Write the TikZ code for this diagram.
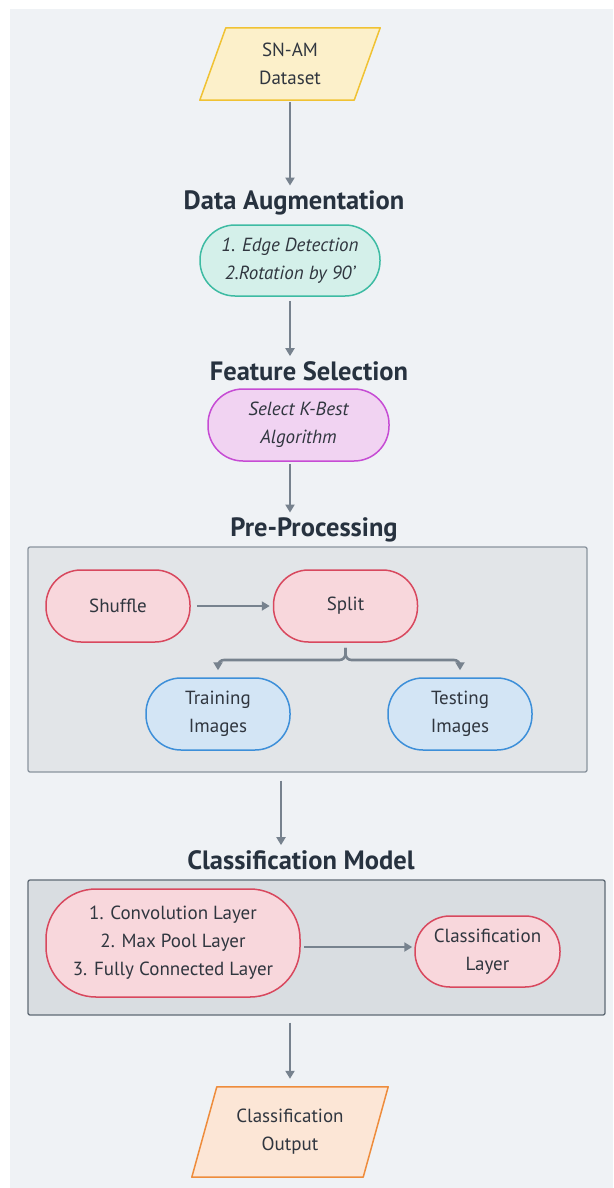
\documentclass[tikz,border=0pt]{standalone}
\usepackage{fontspec}
\setmainfont{PT Sans}
\usetikzlibrary{arrows.meta,calc,positioning}
\definecolor{bgc}{HTML}{EFF2F5}
\definecolor{arrc}{HTML}{77828E}
\definecolor{titc}{HTML}{27323F}
\definecolor{txtc}{HTML}{30363F}
\definecolor{yfill}{HTML}{FCF0CA}
\definecolor{ydraw}{HTML}{F0C233}
\definecolor{tfill}{HTML}{D4F0EA}
\definecolor{tdraw}{HTML}{3DBBA3}
\definecolor{mfill}{HTML}{F1D3F2}
\definecolor{mdraw}{HTML}{C64CD4}
\definecolor{rfill}{HTML}{F8D7DC}
\definecolor{rdraw}{HTML}{D8485E}
\definecolor{bfill}{HTML}{D3E5F5}
\definecolor{bdraw}{HTML}{3D8FD9}
\definecolor{ofill}{HTML}{FCE6D6}
\definecolor{odraw}{HTML}{EE8C3C}
\definecolor{g1fill}{HTML}{E2E5E8}
\definecolor{g1draw}{HTML}{8A949E}
\definecolor{g2fill}{HTML}{D9DDE1}
\definecolor{g2draw}{HTML}{5F6A75}
\tikzset{
  x=1pt,y=-1pt,
  arr/.style={draw=arrc,line width=2.6pt,-{Triangle[length=8pt,width=9pt]}},
  ttl/.style={font=\bfseries\fontsize{26.5}{30}\selectfont,text=titc,inner sep=0pt},
  pill/.style={draw,line width=1.5pt,rounded corners=35pt,minimum width=144pt,minimum height=72pt,align=center,text=txtc,font=\fontsize{19}{28}\selectfont,inner sep=0pt},
  ipill/.style={pill,font=\itshape\fontsize{19}{28}\selectfont},
  txt/.style={align=center,text=txtc,font=\fontsize{19}{28}\selectfont,inner sep=0pt},
  grp/.style={draw,line width=1.3pt,rounded corners=2pt}
}
\begin{document}
\begin{tikzpicture}
\useasboundingbox (0,0) rectangle (613,1188);
\fill[white] (0,0) rectangle (613,1188);
\fill[bgc] (10,9) rectangle (613,1188);

% group boxes
\node[grp,fill=g1fill,draw=g1draw,minimum width=559pt,minimum height=225pt] (pbox) at (307.5,659.5) {};
\node[grp,fill=g2fill,draw=g2draw,minimum width=577pt,minimum height=135pt] (cbox) at (316.5,947.5) {};

% dataset parallelogram
\node[txt,minimum width=154pt,minimum height=72pt] (data) at (290,64) {SN-AM\\Dataset};
\filldraw[fill=yfill,draw=ydraw,line width=1.5pt,line join=round]
  ($(data.north west)+(13,0)$) -- ($(data.north east)+(13,0)$) -- ($(data.south east)+(-13,0)$) -- ($(data.south west)+(-13,0)$) -- cycle;
\node[txt] at (data) {SN-AM\\Dataset};

% titles
\node[ttl] (t1) at (294,203) {Data Augmentation};
\node[ttl] (t2) at (309,371) {Feature Selection};
\node[ttl] (t3) at (314,530) {Pre-Processing};
\node[ttl] (t4) at (301,860) {Classification Model};

\node[ipill,fill=tfill,draw=tdraw,minimum width=180pt,minimum height=71pt] (aug) at (290,260.5) {1. Edge Detection\\2.Rotation by 90'};
\node[ipill,fill=mfill,draw=mdraw,minimum width=181pt,minimum height=72pt] (fs) at (298.5,425) {Select K-Best\\Algorithm};

\node[pill,fill=rfill,draw=rdraw] (shuf) at (118,606) {Shuffle};
\node[pill,fill=rfill,draw=rdraw] (split) at (345.5,606) {Split};
\node[pill,fill=bfill,draw=bdraw] (train) at (218,714) {Training\\Images};
\node[pill,fill=bfill,draw=bdraw] (test) at (460,714) {Testing\\Images};

\node[pill,fill=rfill,draw=rdraw,minimum width=254pt,minimum height=108pt,rounded corners=50pt] (conv) at (173,943) {1. Convolution Layer\\2. Max Pool Layer\\3. Fully Connected Layer};
\node[pill,fill=rfill,draw=rdraw,minimum width=145pt,minimum height=71pt] (cls) at (487.5,951.5) {Classification\\Layer};

% output parallelogram
\node[txt,minimum width=171pt,minimum height=90pt] (out) at (290,1132) {Classification\\Output};
\filldraw[fill=ofill,draw=odraw,line width=1.5pt,line join=round]
  ($(out.north west)+(12.5,0)$) -- ($(out.north east)+(12.5,0)$) -- ($(out.south east)+(-12.5,0)$) -- ($(out.south west)+(-12.5,0)$) -- cycle;
\node[txt] at (out) {Classification\\Output};

% connectors
\draw[arr] ($(data.south)+(0,2)$) -- ($(data.south |- t1.north)+(0,-5)$);
\draw[arr] ($(aug.south)+(0,4)$) -- ($(aug.south |- t2.north)+(0,-5)$);
\coordinate (fsx) at (290,0);
\draw[arr] ($(fs.south -| fsx)+(0,2)$) -- ($(t3.north -| fsx)+(0,-5)$);
\draw[arr] ($(shuf.east)+(6,0)$) -- ($(split.west)+(-3,0)$);
\draw[arr,rounded corners=6pt] ($(split.south)+(0,5)$) -- (345.5,660) -| ($(train.north)+(0,-7)$);
\draw[arr,rounded corners=6pt] ($(split.south)+(0,5)$) -- (345.5,660) -| ($(test.north)+(0,-7)$);
\coordinate (px) at (281,0);
\draw[arr] ($(pbox.south -| px)+(0,8)$) -- ($(t4.north -| px)+(0,-5)$);
\draw[arr] ($(conv.east)+(3,4)$) -- ($(cls.west)+(-2,-4.5)$);
\draw[arr] ($(cbox.south -| fsx)+(0,7)$) -- ($(out.north -| fsx)+(0,-8)$);
\end{tikzpicture}
\end{document}
